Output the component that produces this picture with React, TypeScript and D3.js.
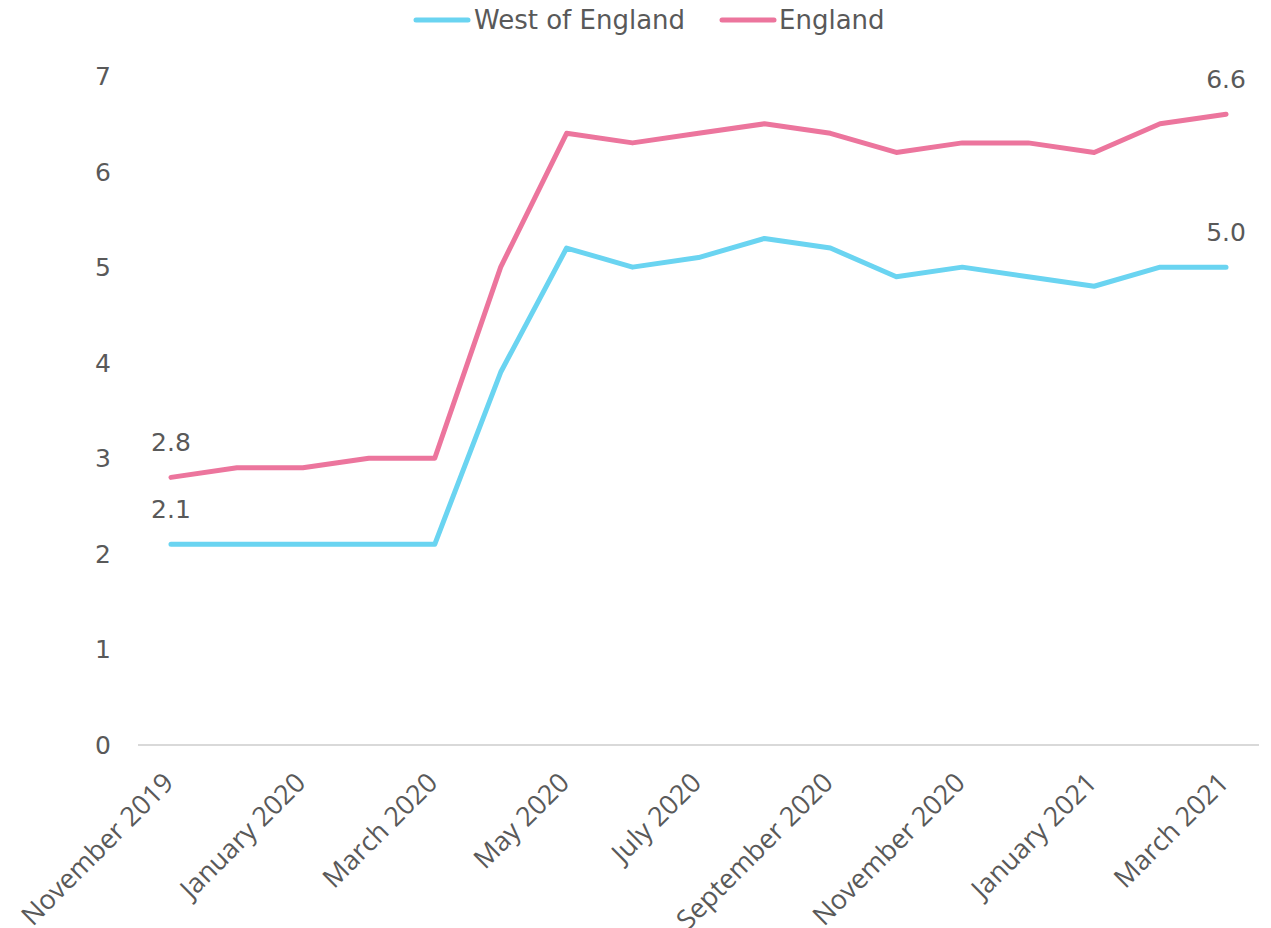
import React from "react";
import * as d3 from "d3";

const months = [
  "November 2019", "December 2019", "January 2020", "February 2020", "March 2020",
  "April 2020", "May 2020", "June 2020", "July 2020", "August 2020",
  "September 2020", "October 2020", "November 2020", "December 2020",
  "January 2021", "February 2021", "March 2021",
];
const westOfEngland = [2.1, 2.1, 2.1, 2.1, 2.1, 3.9, 5.2, 5.0, 5.1, 5.3, 5.2, 4.9, 5.0, 4.9, 4.8, 5.0, 5.0];
const england = [2.8, 2.9, 2.9, 3.0, 3.0, 5.0, 6.4, 6.3, 6.4, 6.5, 6.4, 6.2, 6.3, 6.3, 6.2, 6.5, 6.6];
const yTicks = [0, 1, 2, 3, 4, 5, 6, 7];

const W = 1271, H = 928;
const TEXT = "#595959";
const C_WEST = "#6AD4F1";
const C_ENG = "#EC759D";
const FONT = "'DejaVu Sans', Verdana, sans-serif";
const FONT_X = "'Open Sans', 'Noto Sans', sans-serif";

export default function App() {
  const x = d3.scaleBand<string>().domain(months).range([138, 1259]);
  const cx = (m: string) => (x(m) as number) + x.bandwidth() / 2;
  const y = d3.scaleLinear().domain([0, 7]).range([745, 76]);
  const line = d3.line<number>().x((_, i) => cx(months[i])).y((d) => y(d));
  const series = [
    { name: "West of England", values: westOfEngland, color: C_WEST },
    { name: "England", values: england, color: C_ENG },
  ];
  const last = months.length - 1;
  return (
    <svg width={W} height={H} style={{ position: "absolute", left: 0, top: 0, background: "#fff" }}>
      {/* legend */}
      <g fontFamily={FONT} fontSize={26} fill={TEXT}>
        <line x1={416} x2={468} y1={20} y2={20} stroke={C_WEST} strokeWidth={5} strokeLinecap="round" />
        <text x={474} y={29}>West of England</text>
        <line x1={722} x2={774} y1={20} y2={20} stroke={C_ENG} strokeWidth={5} strokeLinecap="round" />
        <text x={779} y={29}>England</text>
      </g>
      {/* y axis labels */}
      <g fontFamily={FONT} fontSize={25} fill={TEXT} textAnchor="end">
        {yTicks.map((t) => (
          <text key={t} x={111} y={y(t) + 9}>{t}</text>
        ))}
      </g>
      {/* x axis line */}
      <line x1={138} x2={1259} y1={y(0)} y2={y(0)} stroke="#d9d9d9" strokeWidth={2} />
      {/* x labels */}
      <g fontFamily={FONT_X} fontSize={27} fill={TEXT} textAnchor="end">
        {months.map((m, i) =>
          i % 2 === 0 ? (
            <text key={m} transform={`translate(${cx(m) - 10},${770}) rotate(-45)`} dy="0.75em">
              {m}
            </text>
          ) : null
        )}
      </g>
      {/* lines */}
      {series.map((s) => (
        <path key={s.name} d={line(s.values) || ""} fill="none" stroke={s.color} strokeWidth={5} strokeLinejoin="round" strokeLinecap="round" />
      ))}
      {/* data labels */}
      <g fontFamily={FONT} fontSize={25} fill={TEXT} textAnchor="middle">
        {series.map((s) => (
          <React.Fragment key={s.name}>
            <text x={cx(months[0])} y={y(s.values[0]) - 26}>{s.values[0].toFixed(1)}</text>
            <text x={cx(months[last])} y={y(s.values[last]) - 26}>{s.values[last].toFixed(1)}</text>
          </React.Fragment>
        ))}
      </g>
    </svg>
  );
}
